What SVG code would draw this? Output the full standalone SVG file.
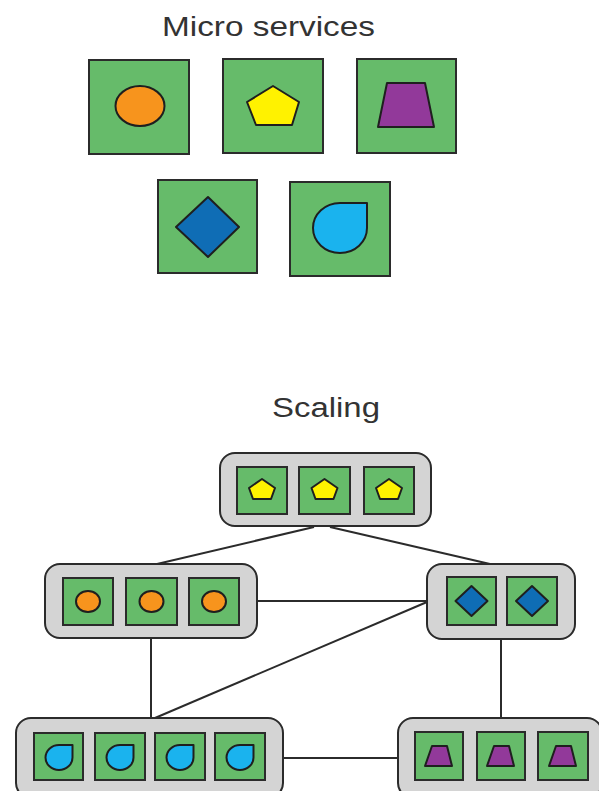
<svg xmlns="http://www.w3.org/2000/svg" width="599" height="791" viewBox="0 0 599 791">
<style>
.title{font-family:"Liberation Sans",Arial,sans-serif;fill:#333;}
.box{fill:#66bb6a;stroke:#2b2b2b;stroke-width:2;}
.grp{fill:#d4d4d4;stroke:#2b2b2b;stroke-width:2;}
.sh{stroke:#1f1f1f;stroke-width:2;stroke-linejoin:round;}
.or{fill:#f7941d;}
.ye{fill:#fff200;}
.pu{fill:#92399a;}
.bl{fill:#0f6db5;}
.cy{fill:#1ab3ee;}
.ln{stroke:#2b2b2b;stroke-width:2;fill:none;}
</style>
<defs>
<polygon id="pent" points="0,-11 13,-2 9,9 -9,9 -13,-2"/>
<path id="drop" d="M0,-12.5 L13.5,-12.5 L13.5,0 A13.5 12.5 0 1 1 0,-12.5 Z"/>
<polygon id="trap" points="-7,-10 8,-10 13,10 -14,10"/>
<polygon id="dia" points="0,-15 16,0 0,15 -16,0"/>
</defs>
<rect width="599" height="791" fill="#fff"/>

<text class="title" x="268.5" y="36" font-size="28" text-anchor="middle" textLength="213" lengthAdjust="spacingAndGlyphs">Micro services</text>

<g id="ms-orange">
<rect class="box" x="89" y="60" width="100" height="94"/>
<ellipse class="sh or" cx="140" cy="106" rx="24.5" ry="20"/>
</g>
<g id="ms-yellow">
<rect class="box" x="223" y="59" width="100" height="94"/>
<polygon class="sh ye" points="273,86 299,102 292,125 256,125 247,102"/>
</g>
<g id="ms-purple">
<rect class="box" x="357" y="59" width="99" height="94"/>
<polygon class="sh pu" points="387,83 425,83 434,127 378,127"/>
</g>
<g id="ms-blue">
<rect class="box" x="158" y="180" width="99" height="93"/>
<polygon class="sh bl" points="208,197 239,227 208,257 176,227"/>
</g>
<g id="ms-cyan">
<rect class="box" x="290" y="182" width="100" height="94"/>
<path class="sh cy" d="M340,203 L367,203 L367,228 A27 25 0 1 1 340,203 Z"/>
</g>

<text class="title" x="326" y="417" font-size="27" text-anchor="middle" textLength="108" lengthAdjust="spacingAndGlyphs">Scaling</text>

<g id="connectors">
<line class="ln" x1="314" y1="527" x2="157" y2="564"/>
<line class="ln" x1="330" y1="527" x2="490" y2="564"/>
<line class="ln" x1="257" y1="601" x2="427" y2="601"/>
<line class="ln" x1="151" y1="638" x2="151" y2="718"/>
<line class="ln" x1="427" y1="602" x2="155" y2="718"/>
<line class="ln" x1="501" y1="639" x2="501" y2="718"/>
<line class="ln" x1="283" y1="758" x2="398" y2="758"/>
</g>

<g id="scale-yellow">
<rect class="grp" x="220" y="453" width="211" height="73" rx="15"/>
<rect class="box" x="237" y="467" width="50" height="47"/>
<rect class="box" x="299" y="467" width="51" height="47"/>
<rect class="box" x="364" y="467" width="50" height="47"/>
<use href="#pent" class="sh ye" x="262" y="490"/>
<use href="#pent" class="sh ye" x="324.5" y="490"/>
<use href="#pent" class="sh ye" x="389" y="490"/>
</g>

<g id="scale-orange">
<rect class="grp" x="45" y="564" width="212" height="74" rx="15"/>
<rect class="box" x="63" y="578" width="50" height="47"/>
<rect class="box" x="126" y="578" width="51" height="47"/>
<rect class="box" x="189" y="578" width="50" height="47"/>
<ellipse class="sh or" cx="88" cy="601.5" rx="12" ry="10.5"/>
<ellipse class="sh or" cx="151.5" cy="601.5" rx="12" ry="10.5"/>
<ellipse class="sh or" cx="214" cy="601.5" rx="12" ry="10.5"/>
</g>

<g id="scale-blue">
<rect class="grp" x="427" y="564" width="148" height="75" rx="15"/>
<rect class="box" x="447" y="577" width="49" height="48"/>
<rect class="box" x="507" y="577" width="50" height="48"/>
<use href="#dia" class="sh bl" x="471.5" y="601"/>
<use href="#dia" class="sh bl" x="532" y="601"/>
</g>

<g id="scale-cyan">
<rect class="grp" x="16" y="718" width="267" height="80" rx="15"/>
<rect class="box" x="34" y="733" width="49" height="47"/>
<rect class="box" x="95" y="733" width="50" height="47"/>
<rect class="box" x="155" y="733" width="50" height="47"/>
<rect class="box" x="215" y="733" width="50" height="47"/>
<use href="#drop" class="sh cy" x="59" y="757.5"/>
<use href="#drop" class="sh cy" x="120" y="757.5"/>
<use href="#drop" class="sh cy" x="180" y="757.5"/>
<use href="#drop" class="sh cy" x="240" y="757.5"/>
</g>

<g id="scale-purple">
<rect class="grp" x="398" y="718" width="204" height="80" rx="15"/>
<rect class="box" x="415" y="732" width="48" height="48"/>
<rect class="box" x="477" y="732" width="48" height="48"/>
<rect class="box" x="538" y="732" width="50" height="48"/>
<use href="#trap" class="sh pu" x="439" y="756"/>
<use href="#trap" class="sh pu" x="501" y="756"/>
<use href="#trap" class="sh pu" x="563" y="756"/>
</g>
</svg>
